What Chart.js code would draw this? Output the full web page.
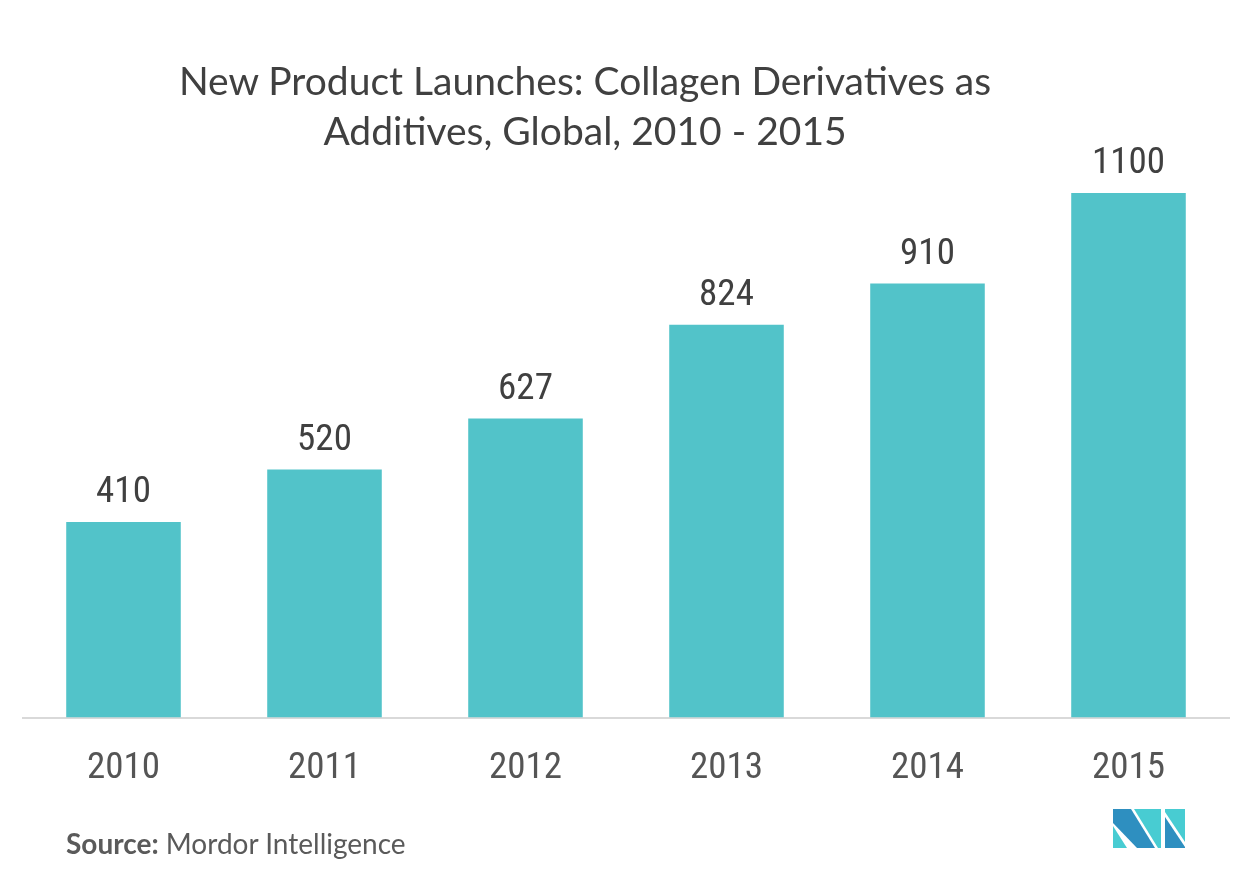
<!DOCTYPE html>
<html>
<head>
<meta charset="utf-8">
<script src="https://cdn.jsdelivr.net/npm/chart.js@4/dist/chart.umd.min.js"></script>
<style>
  html, body { margin: 0; padding: 0; background: #fff; }
  #wrap { position: relative; width: 1253px; height: 880px; overflow: hidden; }
  #chart { position: absolute; left: 0; top: 0; }
  #title {
    position: absolute; left: 0; top: 55px; width: 1170px;
    text-align: center; font-family: Lato, sans-serif; font-size: 39px;
    line-height: 50px; color: #404040;
  }
  #source {
    position: absolute; left: 66px; top: 826px;
    font-family: Lato, sans-serif; font-size: 28px; color: #5a5a5a;
  }
  #source b { font-weight: 700; }
  #logo { position: absolute; left: 1113px; top: 809px; }
</style>
</head>
<body>
<div id="wrap">
  <canvas id="chart" width="1253" height="880"></canvas>
  <div id="title">New Product Launches: Collagen Derivatives as<br>Additives, Global, 2010 - 2015</div>
  <div id="source"><b>Source:</b> Mordor Intelligence</div>
  <svg id="logo" width="73" height="39" viewBox="0 0 73 39">
    <polygon points="0,17 0,39 14,39" fill="#48ccd2"/>
    <polygon points="0,0 18,0 42,39 24,39 0,14" fill="#2e8fc0"/>
    <polygon points="21,0 48,0 48,39 45,39" fill="#48ccd2"/>
    <polygon points="52,0 72,0 72,33 52,3" fill="#48ccd2"/>
    <polygon points="52,8 72,38 72,39 52,39" fill="#2e8fc0"/>
  </svg>
</div>
<script>
// data
var years = ['2010', '2011', '2012', '2013', '2014', '2015'];
var launches = [410, 520, 627, 824, 910, 1100];

var numFamily = '"Roboto Condensed", "Liberation Sans Narrow", Roboto, sans-serif';
var numSize = 37;

// numbers above each bar
var valueLabels = {
  id: 'valueLabels',
  afterDatasetsDraw: function(chart) {
    var ctx = chart.ctx;
    var meta = chart.getDatasetMeta(0);
    ctx.save();
    ctx.font = numSize + 'px ' + numFamily;
    ctx.fillStyle = '#404040';
    ctx.textAlign = 'center';
    ctx.textBaseline = 'alphabetic';
    meta.data.forEach(function(bar, i) {
      ctx.fillText(launches[i], bar.x, bar.y - 20);
    });
    ctx.restore();
  }
};

var ctx = document.getElementById('chart').getContext('2d');
window.myBar = new Chart(ctx, {
  type: 'bar',
  data: {
    labels: years,
    datasets: [{
      data: launches,
      backgroundColor: '#52c3c9',
      barPercentage: 0.57,
      categoryPercentage: 1.0
    }]
  },
  options: {
    responsive: false,
    animation: false,
    layout: { padding: { left: 23, right: 24, top: 193, bottom: 68 } },
    plugins: {
      legend: { display: false },
      tooltip: { enabled: false }
    },
    scales: {
      x: {
        grid: { display: false },
        border: { display: true, color: '#d9d9d9', width: 2 },
        ticks: {
          color: '#555555',
          padding: 21,
          font: { family: numFamily, size: numSize }
        }
      },
      y: {
        display: false,
        min: 0,
        max: 1100
      }
    }
  },
  plugins: [valueLabels]
});
</script>
</body>
</html>
